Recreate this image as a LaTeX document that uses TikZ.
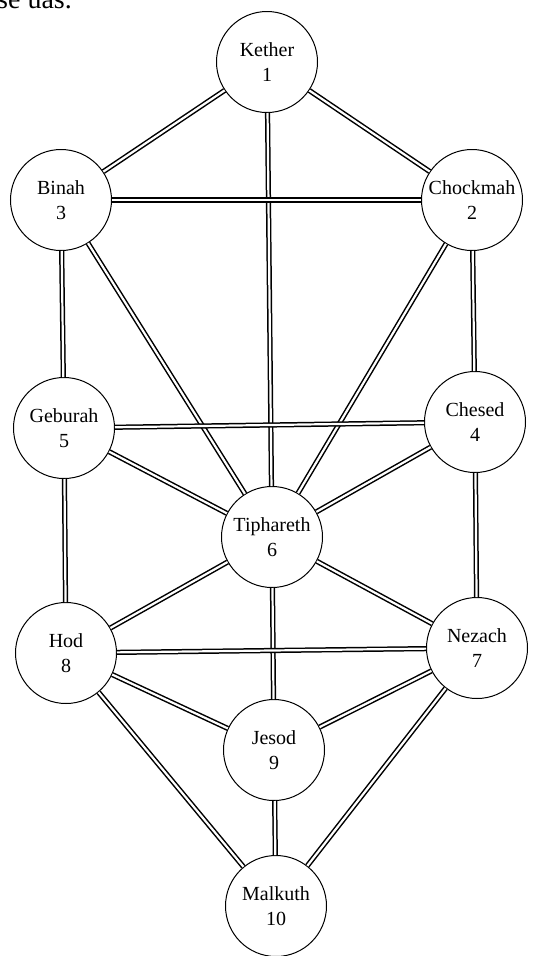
\documentclass[tikz,border=0pt]{standalone}
\usepackage{fontspec}
\setmainfont{Liberation Serif}
\usetikzlibrary{positioning}
\tikzset{sephira/.style={circle, draw=black, line width=1pt, fill=white, minimum size=101pt, inner sep=0pt, align=center, font=\fontsize{20}{25}\selectfont},
pfad/.style={draw=black, double=white, line width=1.5pt, double distance=2.2pt}}
\begin{document}
\begin{tikzpicture}
[x=1pt,y=-1pt]
\useasboundingbox (0,0) rectangle (540,956);
\fill[white] (0,0) rectangle (540,956);
% cut-off line of the page text
\node (fragment) [anchor=base west, inner sep=0pt, font=\fontsize{28}{30}\selectfont] at (-3,8) {se uas.};

\node (kether) [sephira] at (267,62) {Kether\\1};
\node (chockmah) [sephira] at (472,200) {Chockmah\\2};
\node (binah) [sephira] at (61,200) {Binah\\3};
\node (chesed) [sephira] at (475,422) {Chesed\\4};
\node (geburah) [sephira] at (64,428) {Geburah\\5};
\node (tiphareth) [sephira] at (272,537) {Tiphareth\\6};
\node (nezach) [sephira] at (477,648) {Nezach\\7};
\node (hod) [sephira] at (66,653) {Hod\\8};
\node (jesod) [sephira] at (274,750) {Jesod\\9};
\node (malkuth) [sephira] at (276,906) {Malkuth\\10};

% the 22 paths
\foreach \a/\b in {kether/chockmah, kether/binah, kether/tiphareth, chockmah/binah,
  chockmah/chesed, chockmah/tiphareth, binah/geburah, binah/tiphareth,
  chesed/geburah, chesed/tiphareth, chesed/nezach, geburah/tiphareth,
  geburah/hod, tiphareth/nezach, tiphareth/hod, tiphareth/jesod,
  nezach/hod, nezach/jesod, nezach/malkuth, hod/jesod, hod/malkuth, jesod/malkuth}
  \draw [pfad] (\a) -- (\b);

\end{tikzpicture}
\end{document}
